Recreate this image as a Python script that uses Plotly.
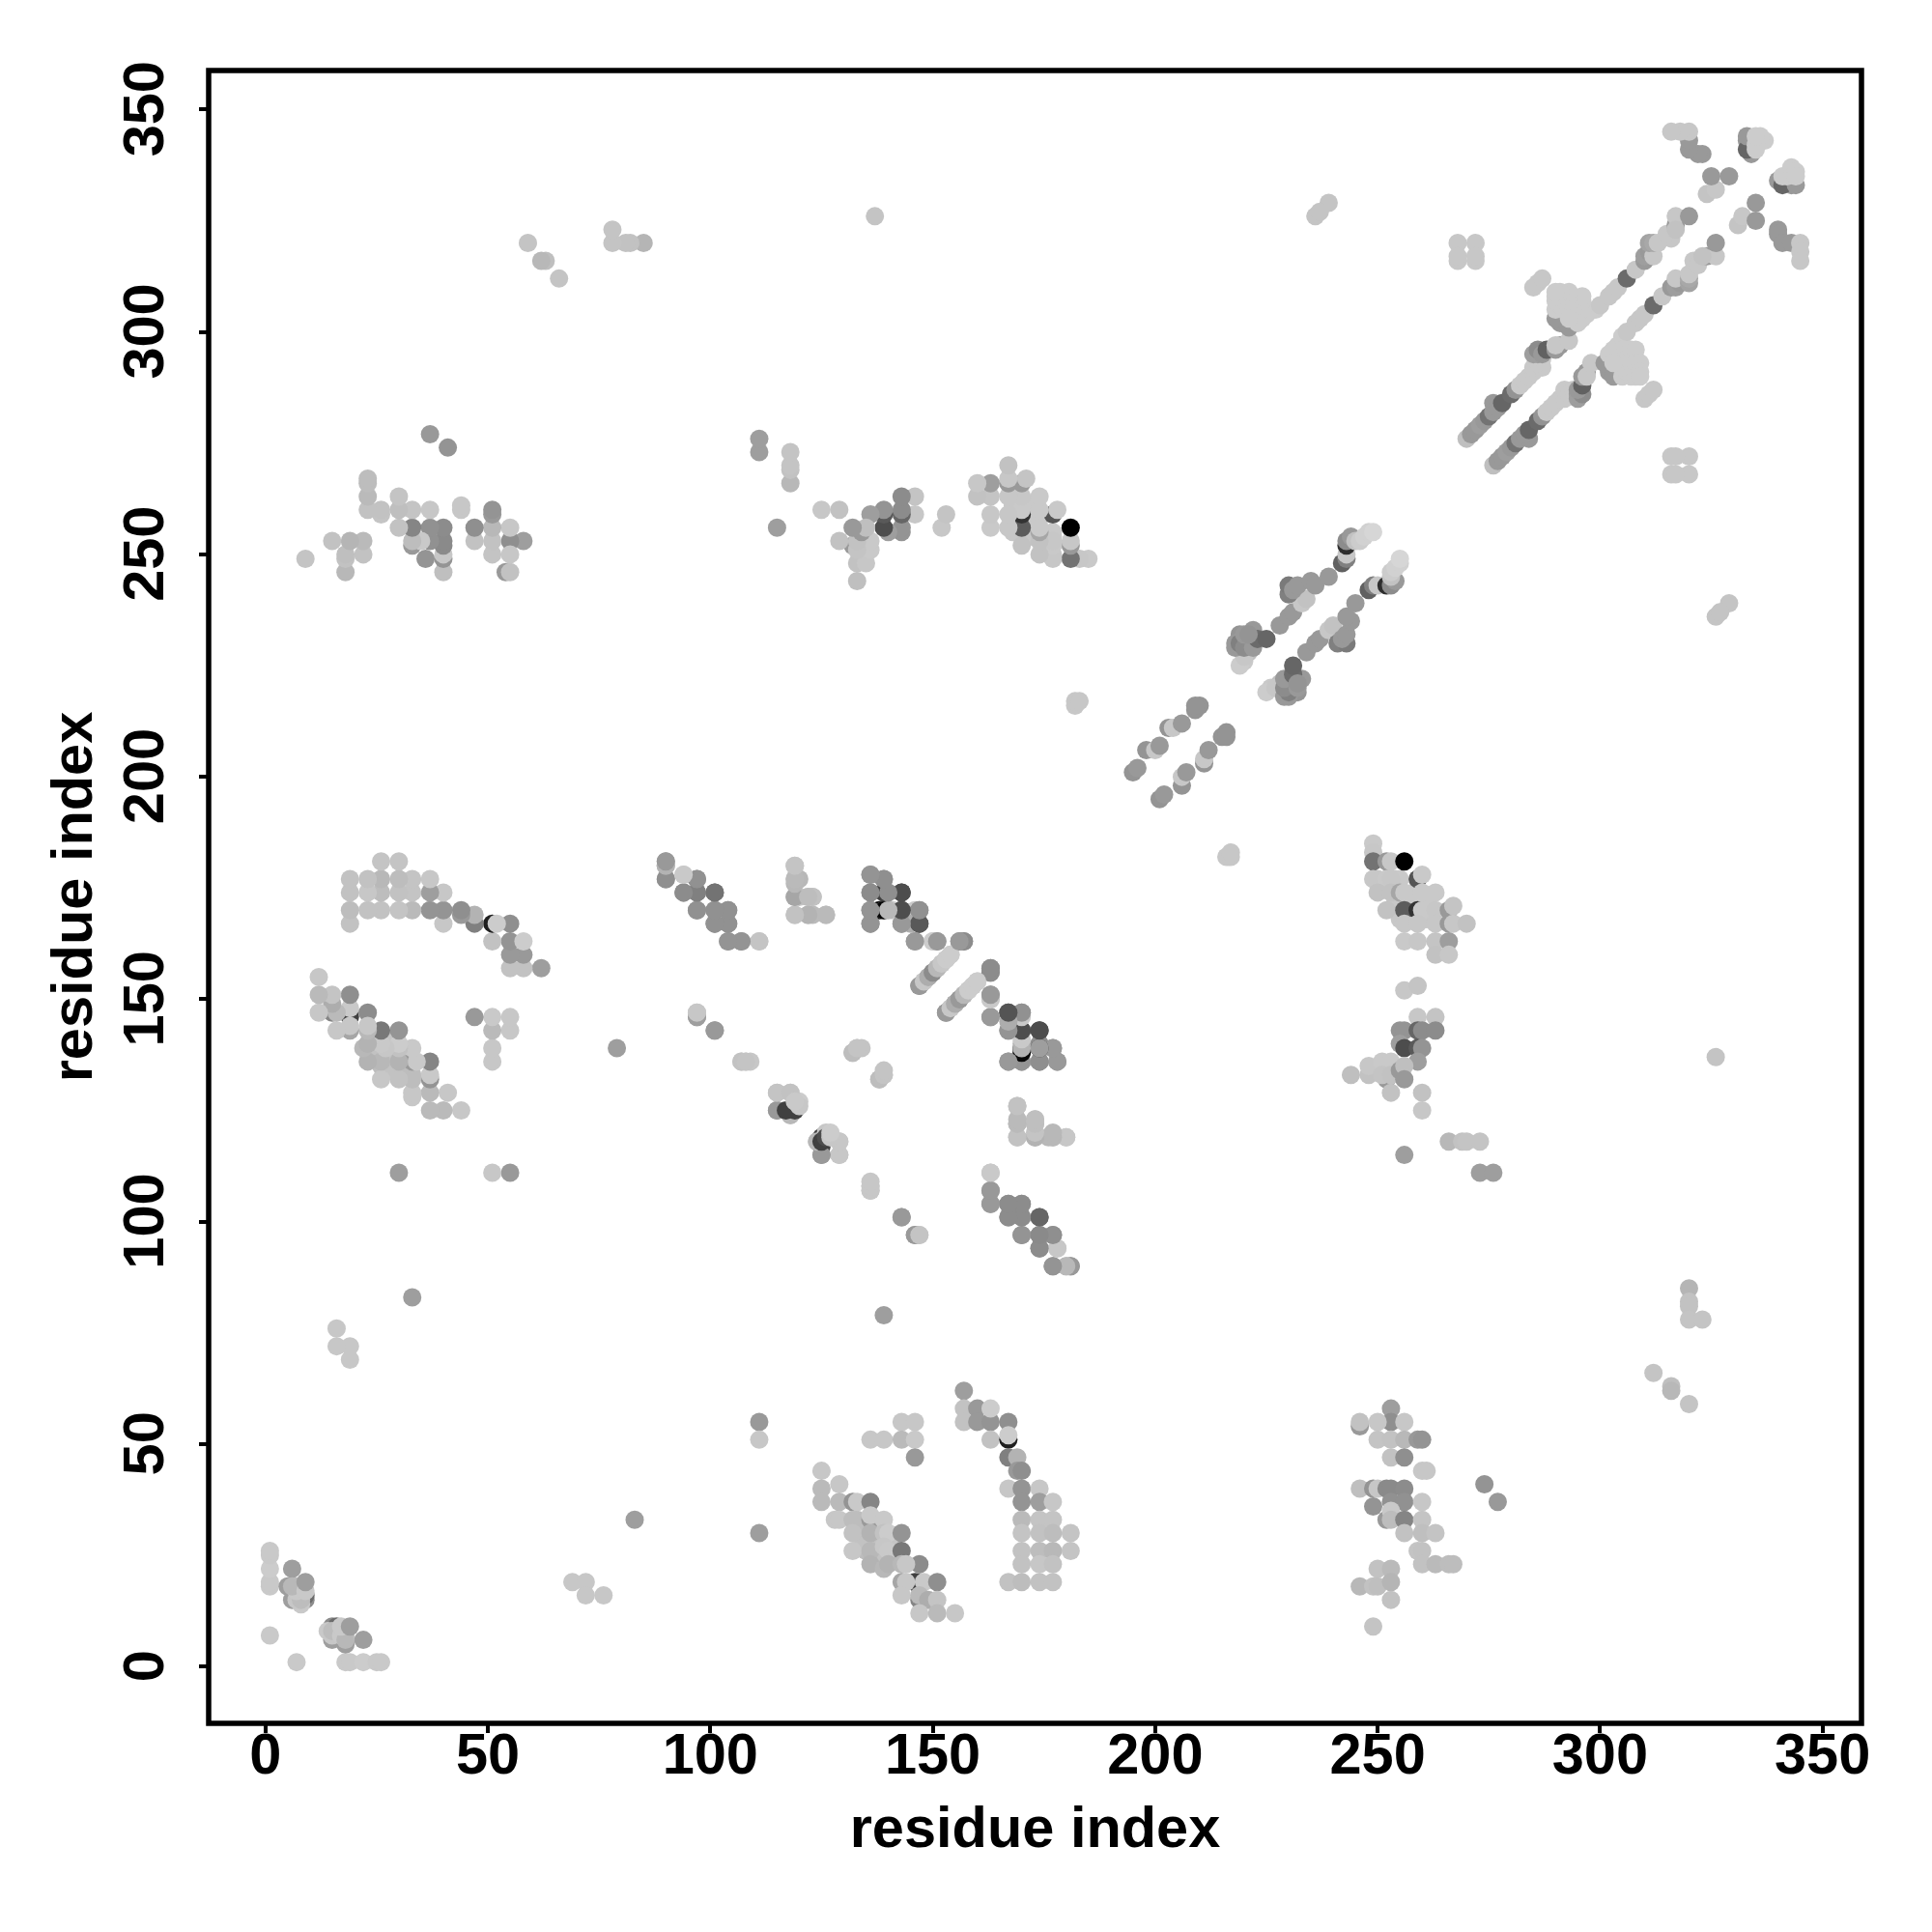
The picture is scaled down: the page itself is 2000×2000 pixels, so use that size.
import plotly.graph_objects as go

# contacts as (residue_i, residue_j, grey level 0=black .. 1=white); the map is symmetric
near_origin = [(7,1,.79),(18,1,.79),(19,1,.79),(22,1,.8),(25,1,.79),(26,1,.79),
 (18,5,.62),(15,6,.62),(22,6,.62),(15,9,.55),(16,9,.42),(14,8,.79),(15,7,.78),(15,8,.74),
 (18,8,.12),(18,7,.76),(17,7,.79),(18,6,.72),(17,9,.79),(19,9,.62)]
near_69 = [(69,19,.78),(72,19,.78),(72,16,.78),(76,16,.78),(83,33,.62),(139,79,.62),(111,30,.62)]
n_group = [(111,55,.6),(111,51,.78),(136,51,.78),(139,51,.78),(143,55,.78),(146,55,.78),(143,51,.73),(146,51,.79),(146,47,.6)]
diag_a = [(133,33,.74),(134,30,.74),(135,26,.74),(137,28,.76),(138,24,.76),(134,28,.76),(137,32,.76),(141,28,.77),(141,24,.76),(138,30,.76),
 (125,44,.78),(125,40,.73),(129,41,.78),(125,37,.73),(129,37,.73),(132,37,.58),(133,37,.79),(136,37,.52),
 (128,33,.78),(129,33,.78),(132,33,.74),(136,33,.6),(136,34,.79),(139,33,.79),
 (132,30,.76),(136,30,.7),(139,30,.76),(140,30,.8),(143,30,.58),
 (132,26,.78),(136,26,.72),(139,27,.78),(140,26,.79),(143,26,.47),
 (136,23,.7),(139,22,.72),(140,23,.7),(143,23,.72),(147,23,.55),(144,23,.78),
 (143,19,.65),(147,19,.55),(146,19,.25),(144,19,.78),(148,19,.79),(151,19,.56),
 (143,16,.78),(147,15,.52),(147,16,.73),(149,15,.68),(151,15,.77),(147,12,.78),(151,12,.73),(155,12,.78)]
arc_b = [(157,62,.62),(157,58,.76),(160,58,.6),(157,55,.76),(160,55,.6),(163,55,.58),(163,58,.8),(167,55,.56),
 (163,51,.76),(167,51,.12),(167,52,.8),(167,47,.5),(169,47,.7),(169,44,.6),(170,44,.56),
 (167,40,.78),(170,40,.58),(174,40,.78),(170,37,.58),(174,37,.62),(177,37,.78),
 (170,33,.73),(174,33,.77),(177,33,.77),(170,30,.77),(174,30,.76),(177,30,.74),(181,30,.77),
 (170,26,.76),(174,26,.74),(177,26,.72),(181,26,.77),(170,23,.76),(174,23,.78),(177,23,.76),
 (167,19,.76),(170,19,.74),(174,19,.76),(177,19,.76)]
right_low = [(320,85,.71),(320,82,.76),(320,81,.76),(320,78,.77),(323,78,.77),(312,66,.77),(316,63,.75),(316,62,.72),(320,59,.77),
 (274,41,.58),(277,37,.6),
 (253,58,.62),(253,55,.56),(246,54,.6),(246,55,.76),(250,55,.78),(256,55,.78),
 (250,51,.77),(253,51,.76),(256,51,.72),(259,51,.6),(260,51,.58),(253,47,.76),(256,47,.56),(260,44,.78),(261,44,.78),
 (246,40,.75),(249,40,.58),(250,40,.78),(252,40,.54),(253,40,.54),(256,40,.55),
 (249,36,.58),(253,37,.57),(256,37,.57),(260,37,.78),(252,33,.6),(253,35,.79),(253,33,.74),(256,33,.52),(260,33,.77),
 (256,30,.76),(260,30,.75),(263,30,.77),(259,26,.77),(260,26,.76),(260,23,.76),(263,23,.73),(266,23,.74),(267,23,.74),
 (250,22,.76),(253,22,.73),(246,18,.72),(249,18,.76),(250,18,.75),(253,19,.71),(253,15,.76),(249,9,.77)]
strand_c = [(90,181,.6),(90,180,.72),(90,177,.58),(94,178,.78),(97,177,.56),(94,174,.55),(97,174,.54),(101,174,.4),
 (97,170,.58),(101,170,.55),(104,170,.55),(101,167,.55),(104,167,.55),(104,163,.6),(107,163,.6),(111,163,.79),
 (119,180,.78),(119,177,.72),(120,177,.72),(119,173,.7),(120,173,.77),(122,173,.75),(123,173,.75),
 (119,169,.76),(122,169,.73),(123,169,.73),(126,169,.76)]
strand_d = [(136,178,.6),(139,177,.6),(136,174,.56),(139,174,.25),(139,174,.62),(143,174,.3),
 (136,170,.58),(138,170,.03),(139,170,.7),(141,170,.79),(143,170,.3),(146,170,.79),(147,170,.57),
 (136,167,.6),(143,167,.58),(145,167,.68),(147,167,.33),(146,163,.6),(150,163,.79),(151,163,.6),(156,163,.55),(157,163,.55),
 (147,153,.6),(148,154,.78),(149,155,.68),(150,156,.6),(151,157,.72),(152,158,.8),(153,159,.8),(154,160,.8),
 (153,147,.6),(154,148,.78),(155,149,.68),(156,150,.55),(157,151,.72),(158,152,.78),(159,153,.8),(160,154,.8),
 (163,157,.55),(163,156,.6),(163,150,.8),(163,151,.6),(163,146,.6),(167,147,.35),(167,143,.6),(170,147,.57),
 (170,139,.02),(170,143,.3),(170,140,.72),(174,139,.25),(174,143,.3),(174,140,.56),(177,139,.56),
 (167,136,.58),(170,136,.58),(174,136,.55),(178,136,.58)]
scattered = [(97,146,.6),(97,147,.77),(101,143,.6),(107,136,.78),(108,136,.78),(109,136,.78),
 (132,138,.74),(133,139,.77),(134,139,.77),(138,132,.74),(139,133,.77),
 (115,129,.78),(118,129,.78),(115,125,.6),(118,124,.72),(118,125,.25),(119,126,.3),(119,127,.78),(120,127,.8),
 (125,115,.6),(129,115,.77),(124,118,.72),(125,117,.25),(125,119,.25),(129,118,.76),(126,120,.78),(127,119,.79),
 (136,107,.76),(136,108,.77),(143,101,.6),(146,97,.62),(147,97,.78)]
strand_e = [(163,111,.77),(163,107,.58),(163,104,.58),(167,104,.57),(170,104,.57),(167,101,.57),(170,101,.57),(174,101,.45),
 (170,97,.57),(174,97,.5),(177,97,.57),(174,94,.55),(178,94,.79),(177,90,.56),(180,90,.7),(181,90,.6),
 (169,126,.73),(169,122,.7),(169,119,.76),(173,119,.65),(173,123,.76),(173,122,.74),(176,119,.72),(177,119,.73),(180,119,.77)]
cluster_f = [(254,177,.79),(255,177,.79),(255,171,.79),(257,172,.79),(258,174,.79),(257,168,.78),(261,172,.79),(254,172,.78),
 (261,168,.78),(255,168,.78),(250,177,.78),(251,175,.78),
 (249,185,.79),(249,183,.78),(249,181,.45),(252,181,.6),(253,181,.78),(256,181,.0),
 (259,177,.33),(249,177,.78),(252,177,.79),(253,177,.78),(260,178,.79),
 (250,174,.76),(253,174,.76),(255,174,.65),(256,174,.79),(260,174,.79),(263,174,.79),
 (252,170,.76),(256,170,.36),(259,170,.2),(260,170,.79),(263,170,.78),(266,170,.6),(267,171,.77),
 (256,167,.78),(259,167,.78),(263,167,.78),(266,167,.6),(267,167,.78),(270,167,.76),
 (256,163,.79),(259,163,.78),(263,163,.77),(266,163,.62),(263,160,.76),(266,160,.78),
 (256,152,.78),(259,153,.77),(259,146,.78),(263,146,.77),
 (255,143,.58),(256,143,.58),(259,143,.4),(260,143,.55),(263,143,.55),
 (255,140,.62),(256,139,.3),(259,139,.35),(260,139,.58),(259,136,.62),
 (244,133,.75),(248,133,.76),(248,135,.78),(251,136,.79),(253,136,.79),(252,132,.6),(251,133,.77),(253,133,.76),
 (255,134,.6),(256,135,.75),(256,132,.6),(253,129,.76),(260,129,.76),(260,125,.78),
 (266,118,.72),(269,118,.76),(270,118,.77),(273,118,.77),(256,115,.62),(273,111,.62),(276,111,.62)]
isolated = [(326,137,.77),(329,239,.77),(326,236,.77),(327,237,.77),
 (320,268,.78),(320,272,.78),(316,268,.78),(316,272,.78),(317,268,.78),(317,272,.78)]
helix_far = [(216,182,.78),(217,182,.78),(217,183,.78)]
stripe_g = [(201,195,.58),(202,196,.6),(206,198,.58),(206,200,.78),(207,201,.6),(211,203,.58),(211,204,.78),(212,206,.6),
 (215,209,.58),(216,210,.58),(216,209,.58)]
stripe_h = [(226,220,.79),(228,221,.75),(229,219,.6),(231,219,.6),(231,220,.55),(231,221,.5),(232,222,.55),(228,220,.6),(232,219,.58),(233,222,.6),
 (225,219,.8),(227,220,.78),(229,218,.6),(230,218,.6),(230,219,.5),(229,220,.55),(229,222,.6),(232,220,.6),
 (231,223,.42),(231,225,.4),(232,221,.58),(234,228,.6),(236,230,.6),(237,231,.6),
 (239,233,.78),(240,234,.76),(241,230,.5),(243,230,.48),(242,231,.6),(243,232,.6),(244,235,.6),(243,236,.6),(245,239,.6),
 (248,242,.38),(249,243,.5),(250,243,.78),(252,243,.18),(253,243,.55),(254,244,.6),(253,245,.76),(253,246,.8),(254,247,.82),(255,248,.82),(255,249,.84)]
stripe_i = [(276,270,.75),(277,271,.6),(278,272,.6),(279,273,.62),(280,274,.6),(281,275,.45),(282,276,.6),(284,276,.6),(283,277,.6),
 (284,278,.4),(286,280,.42),(287,281,.58),
 (288,282,.79),(289,283,.79),(290,284,.79),(291,285,.79),(292,285,.79),(292,287,.79),(293,286,.79),(294,287,.79),(295,285,.62),(295,286,.62),(296,286,.55),(295,287,.6),(296,288,.38),(296,290,.6),(297,291,.6),(297,290,.78),(298,293,.78),
 (302,291,.6),(303,290,.6),(304,295,.3),(301,293,.6),(303,296,.8),(304,297,.8),(305,299,.8),(305,296,.8),(305,293,.8),(305,290,.8),(306,294,.8),(306,291,.8),
 (307,296,.8),(307,293,.8),(307,290,.8),(308,296,.8),(308,293,.8),(308,290,.8),(309,293,.8),(309,291,.8),(309,290,.8),(302,295,.8),(303,293,.8),
 (310,285,.78),(311,286,.78),(312,287,.78)]
stripe_j = [(306,300,.78),(308,302,.78),(309,303,.78),(310,304,.78),(312,306,.42),(314,308,.78),(316,310,.6),(317,310,.62),(318,311,.6),(317,312,.78),(320,311,.64),(320,312,.66),(320,313,.78),
 (321,316,.78),(322,315,.78),(324,317,.6),(326,317,.78),(326,320,.6),(323,317,.76)]
top_right = [(331,324,.77),(332,326,.78),(335,325,.6),(335,329,.6),(340,323,.6),(340,322,.6),(341,320,.6),(343,320,.6),(345,320,.78),(345,318,.78),(345,316,.78),
 (340,334,.6),(343,333,.6),(343,334,.38),(341,333,.4),(344,333,.6),(342,335,.8),(341,335,.8),(343,337,.8),(344,336,.8),(344,335,.8)]

clusters = [near_origin, near_69, n_group, diag_a, arc_b, right_low, strand_c, strand_d, scattered, strand_e,
            cluster_f, isolated, helix_far, stripe_g, stripe_h, stripe_i, stripe_j, top_right]
contacts = [c for group in clusters for c in group]

residue_i = [c[0] for c in contacts]
residue_j = [c[1] for c in contacts]
grey = [c[2] for c in contacts]

x_values = residue_i + residue_j
y_values = residue_j + residue_i
grey_values = grey + grey

tick_values = [0, 50, 100, 150, 200, 250, 300, 350]
tick_labels = ["0", "50", "100", "150", "200", "250", "300", "350"]
axis_label = "residue index"
FONT = "Liberation Sans"
SIZE = 59.5
bold = dict(family=FONT, size=SIZE, color="black", weight="bold")

fig = go.Figure(go.Scatter(
    x=x_values, y=y_values, mode="markers",
    marker=dict(size=19, color=grey_values, cmin=0, cmax=1,
                colorscale=[[0, "rgb(0,0,0)"], [1, "rgb(255,255,255)"]],
                showscale=False, line=dict(width=0)),
    hoverinfo="skip"))

axis_common = dict(
    range=[-12.76, 358.76], tickmode="array", tickvals=tick_values,
    ticks="outside", ticklen=9, tickwidth=4, tickcolor="black",
    showgrid=False, zeroline=False, showline=False, tickfont=bold,
)
fig.update_xaxes(**axis_common, ticktext=tick_labels, ticklabelstandoff=-29, title=dict(text=axis_label, standoff=21, font=bold))
fig.update_yaxes(**axis_common, ticktext=[t + "\u00a0" for t in tick_labels], tickangle=-90, ticklabelstandoff=13,
                 title=dict(text=axis_label, standoff=0, font=bold))

fig.update_layout(
    width=2000, height=2000, showlegend=False,
    margin=dict(l=216, r=73, t=73, b=216, autoexpand=False),
    paper_bgcolor="white", plot_bgcolor="white",
    font=dict(family=FONT, size=SIZE, color="black"),
    shapes=[dict(type="rect", xref="paper", yref="paper", x0=0, y0=0, x1=1, y1=1,
                 line=dict(color="black", width=5.5))],
)
fig.write_html("out.html", config={"displayModeBar": False}, post_script="document.body.style.margin='0';")
